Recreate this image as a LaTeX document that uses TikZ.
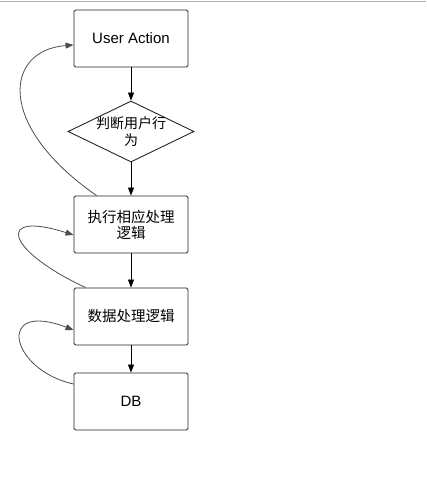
\documentclass[tikz,border=0pt]{standalone}
\usepackage{fontspec}
\setmainfont{Liberation Sans}
\newfontfamily\cjk{Noto Sans CJK SC}
\usetikzlibrary{arrows.meta,shapes.geometric}
\begin{document}
\begin{tikzpicture}[x=1pt,y=-1pt,
  box/.style={draw=black!85,line width=0.9pt,rounded corners=1.5pt,minimum width=114pt,minimum height=57pt,inner sep=0pt,align=center,font=\fontsize{15}{16}\selectfont},
  cbox/.style={box,font=\fontsize{14.5}{16}\selectfont\cjk},
  dia/.style={draw=black!85,line width=0.9pt,diamond,minimum width=126pt,minimum height=61pt,inner sep=0pt},
  txt/.style={align=center,font=\fontsize{14}{17}\selectfont\cjk,inner sep=0pt},
  arr/.style={-{Triangle[length=8pt,width=6pt]},line width=0.8pt,black},
  back/.style={-{Triangle[length=8pt,width=6pt]},line width=0.8pt,black!70}]
\useasboundingbox (0,0) rectangle (426,487);
\draw[black!30,line width=1.2pt] (0,1.5) -- (426,1.5);
\node[box] (ua) at (131,38.5) {User Action};
\node[dia] (d) at (131,131.5) {};
\node[txt] (dt) at (d.center) {判断用户行\\为};
\node[cbox] (ex) at (131,224.5) {执行相应处理\\逻辑};
\node[cbox] (dp) at (131,316.5) {数据处理逻辑};
\node[box] (db) at (131,401.5) {DB};
\draw[arr] (ua.south) -- (d.north);
\draw[arr] (d.south) -- (ex.north);
\draw[arr] (ex.south) -- (dp.north);
\draw[arr] (dp.south) -- (db.north);
\coordinate (s1) at ([xshift=23pt]ex.north west);
\coordinate (e1) at ([yshift=-6.5pt]ua.west);
\draw[back] (s1) .. controls (-5,125) and (5,50) .. (e1);
\coordinate (s2) at ([xshift=12pt]dp.north west);
\coordinate (e2) at ([yshift=-10.5pt]ex.west);
\draw[back] (s2) .. controls (5,250) and (-5,210) .. (e2);
\coordinate (s3) at ([yshift=17.5pt]db.west);
\coordinate (e3) at ([yshift=-13.5pt]dp.west);
\draw[back] (s3) .. controls (10,370) and (-5,300) .. (e3);
\end{tikzpicture}
\end{document}
